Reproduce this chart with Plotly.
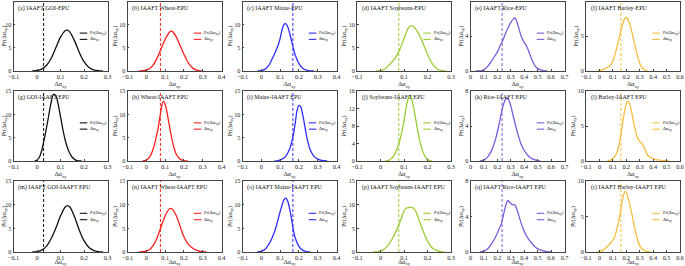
import plotly.graph_objects as go

FONT = "Liberation Serif"

# ---------------- data ----------------
panel_titles = [
    "(a) IAAFT GOI-EPU", "(b) IAAFT Wheat-EPU", "(c) IAAFT Maize-EPU",
    "(d) IAAFT Soybeans-EPU", "(e) IAAFT Rice-EPU", "(f) IAAFT Barley-EPU",
    "(g) GOI-IAAFT EPU", "(h) Wheat-IAAFT EPU", "(i) Maize-IAAFT EPU",
    "(j) Soybeans-IAAFT EPU", "(k) Rice-IAAFT EPU", "(l) Barley-IAAFT EPU",
    "(m) IAAFT GOI-IAAFT EPU", "(n) IAAFT Wheat-IAAFT EPU", "(o) IAAFT Maize-IAAFT EPU",
    "(p) IAAFT Soybeans-IAAFT EPU", "(q) IAAFT Rice-IAAFT EPU", "(r) IAAFT Barley-IAAFT EPU",
]

# observed delta alpha (dashed line) per column: GOI, Wheat, Maize, Soybeans, Rice, Barley
observed_dalpha = [0.028, 0.075, 0.168, 0.078, 0.235, 0.16]

x_ranges = [[-0.1, 0.3], [-0.1, 0.4], [-0.1, 0.4], [-0.1, 0.3], [0, 0.7], [-0.1, 0.6]]
y_tops = [15, 15, 15, 15, 8, 10,
          15, 15, 15, 16, 8, 10,
          15, 15, 15, 15, 8, 10]
y_dticks = [5, 5, 5, 5, 4, 5,
            5, 5, 5, 4, 4, 5,
            5, 5, 5, 5, 4, 5]

a_x = [-0.02, 0, 0.02, 0.04, 0.06, 0.08, 0.10, 0.12, 0.13, 0.14, 0.16, 0.18, 0.20, 0.22, 0.24, 0.26, 0.28]
a_y = [0.03, 0.12, 0.42, 1.2, 2.7, 5.0, 7.3, 8.7, 8.8, 8.4, 6.5, 4.0, 2.0, 0.8, 0.26, 0.07, 0]

b_x = [-0.04, -0.02, 0, 0.02, 0.04, 0.06, 0.08, 0.10, 0.12, 0.13, 0.14, 0.16, 0.18, 0.20, 0.22, 0.24, 0.26, 0.28, 0.30]
b_y = [0, 0.05, 0.2, 0.6, 1.5, 3.0, 4.9, 6.8, 8.2, 8.6, 8.5, 7.3, 5.5, 3.6, 2.0, 0.9, 0.3, 0.06, 0]

c_x = [-0.02, 0, 0.02, 0.04, 0.06, 0.08, 0.09, 0.10, 0.11, 0.12, 0.13, 0.14, 0.15, 0.16, 0.17, 0.18, 0.20, 0.22, 0.24, 0.26, 0.28]
c_y = [0, 0.1, 0.4, 1.2, 2.8, 4.6, 5.6, 7.0, 8.8, 10.0, 10.2, 9.6, 8.3, 6.6, 5.0, 3.5, 1.6, 0.6, 0.2, 0.04, 0]

d_x = [-0.02, 0, 0.02, 0.04, 0.06, 0.08, 0.10, 0.12, 0.13, 0.14, 0.16, 0.18, 0.20, 0.22, 0.24, 0.26, 0.28]
d_y = [0, 0.1, 0.5, 1.5, 2.6, 4.4, 7.0, 9.4, 9.8, 9.6, 8.3, 6.1, 3.6, 1.6, 0.5, 0.1, 0]

e_x = [0.04, 0.08, 0.10, 0.12, 0.15, 0.18, 0.20, 0.22, 0.24, 0.26, 0.28, 0.30, 0.32, 0.33, 0.34, 0.36, 0.38, 0.40, 0.42, 0.44, 0.46, 0.48, 0.50, 0.53, 0.57]
e_y = [0, 0.05, 0.15, 0.4, 1.0, 1.7, 2.2, 2.9, 3.5, 4.3, 5.0, 5.6, 6.0, 6.1, 5.9, 4.9, 3.9, 3.3, 2.8, 2.0, 1.2, 0.6, 0.3, 0.1, 0]

f_x = [-0.02, 0, 0.04, 0.08, 0.10, 0.12, 0.14, 0.16, 0.18, 0.19, 0.20, 0.21, 0.23, 0.25, 0.27, 0.29, 0.31, 0.33, 0.36]
f_y = [0, 0.05, 0.3, 0.8, 1.4, 2.6, 4.2, 5.8, 7.2, 7.6, 7.7, 7.5, 6.5, 4.9, 3.2, 1.7, 0.7, 0.25, 0]

g_x = [-0.01, 0.0, 0.01, 0.02, 0.03, 0.04, 0.05, 0.06, 0.07, 0.08, 0.09, 0.10, 0.11, 0.12, 0.13, 0.14, 0.15, 0.16, 0.17, 0.19]
g_y = [0, 0.2, 0.8, 2.2, 4.5, 7.0, 9.8, 12.5, 14.3, 14.0, 12.2, 9.5, 6.8, 4.5, 2.8, 1.6, 0.8, 0.35, 0.1, 0]

h_x = [-0.02, 0.0, 0.02, 0.04, 0.06, 0.07, 0.08, 0.09, 0.10, 0.11, 0.12, 0.13, 0.14, 0.15, 0.16, 0.18, 0.20, 0.22]
h_y = [0, 0.2, 1.0, 3.0, 6.5, 8.8, 11.3, 12.8, 12.2, 10.5, 8.2, 6.0, 4.0, 2.5, 1.4, 0.4, 0.1, 0]

i_x = [0.07, 0.09, 0.11, 0.13, 0.15, 0.16, 0.17, 0.18, 0.19, 0.20, 0.21, 0.22, 0.23, 0.24, 0.25, 0.26, 0.28, 0.30, 0.32, 0.35]
i_y = [0, 0.1, 0.4, 1.0, 2.5, 3.8, 5.5, 8.0, 10.8, 11.9, 11.6, 10.0, 7.8, 5.5, 3.7, 2.4, 1.0, 0.4, 0.15, 0]

j_x = [0.02, 0.04, 0.06, 0.07, 0.08, 0.09, 0.10, 0.11, 0.12, 0.125, 0.13, 0.14, 0.15, 0.16, 0.17, 0.18, 0.19, 0.20, 0.21, 0.22]
j_y = [0, 0.3, 1.5, 2.8, 4.3, 6.5, 9.2, 12.5, 14.6, 15.0, 14.6, 12.5, 9.5, 6.5, 4.0, 2.2, 1.0, 0.35, 0.1, 0]

k_x = [0.07, 0.10, 0.13, 0.16, 0.19, 0.21, 0.23, 0.25, 0.27, 0.28, 0.30, 0.32, 0.34, 0.36, 0.38, 0.40, 0.43, 0.46, 0.50, 0.52]
k_y = [0, 0.1, 0.5, 1.3, 2.7, 4.0, 5.5, 6.7, 7.2, 7.1, 6.3, 5.0, 3.8, 2.7, 1.8, 1.2, 0.6, 0.25, 0.05, 0]

l_x = [0.06, 0.09, 0.12, 0.14, 0.16, 0.18, 0.20, 0.21, 0.22, 0.24, 0.26, 0.28, 0.30, 0.32, 0.34, 0.36, 0.39, 0.42, 0.46, 0.50, 0.52]
l_y = [0, 0.2, 0.8, 1.8, 3.8, 6.3, 8.2, 8.6, 8.4, 7.0, 5.0, 3.5, 2.8, 2.4, 1.6, 0.8, 0.4, 0.2, 0.1, 0.03, 0]

m_x = [-0.02, 0, 0.02, 0.04, 0.06, 0.08, 0.10, 0.12, 0.13, 0.14, 0.16, 0.18, 0.20, 0.22, 0.24, 0.26, 0.28]
m_y = [0, 0.1, 0.4, 1.2, 2.8, 5.0, 7.6, 9.5, 9.8, 9.5, 7.4, 4.6, 2.4, 1.0, 0.35, 0.08, 0]

n_x = [-0.04, -0.02, 0, 0.02, 0.04, 0.06, 0.08, 0.10, 0.12, 0.13, 0.14, 0.16, 0.18, 0.20, 0.22, 0.24, 0.26, 0.28, 0.30, 0.32]
n_y = [0, 0.05, 0.2, 0.6, 1.6, 3.3, 5.5, 7.6, 9.0, 9.2, 9.0, 7.6, 5.4, 3.2, 1.8, 1.0, 0.5, 0.2, 0.05, 0]

o_x = [-0.02, 0, 0.02, 0.04, 0.06, 0.08, 0.10, 0.12, 0.13, 0.14, 0.15, 0.16, 0.17, 0.18, 0.20, 0.22, 0.24, 0.26]
o_y = [0, 0.15, 0.6, 1.6, 3.2, 5.5, 8.5, 11.0, 11.4, 10.8, 9.3, 7.2, 4.8, 3.0, 1.2, 0.4, 0.1, 0]

p_x = [-0.03, -0.01, 0.01, 0.03, 0.05, 0.07, 0.09, 0.10, 0.11, 0.12, 0.13, 0.14, 0.15, 0.16, 0.18, 0.20, 0.22, 0.24, 0.26, 0.27]
p_y = [0, 0.1, 0.4, 1.3, 2.8, 4.8, 7.3, 8.7, 9.3, 9.4, 9.4, 9.3, 8.6, 7.3, 4.6, 2.3, 0.9, 0.3, 0.05, 0]

q_x = [0.07, 0.10, 0.13, 0.16, 0.19, 0.21, 0.23, 0.25, 0.27, 0.28, 0.29, 0.31, 0.33, 0.35, 0.37, 0.39, 0.41, 0.43, 0.45, 0.48, 0.51, 0.55, 0.60]
q_y = [0, 0.1, 0.4, 1.0, 1.8, 2.5, 3.2, 4.5, 5.6, 5.8, 5.6, 5.35, 5.3, 4.6, 3.6, 2.7, 2.0, 1.5, 1.1, 0.6, 0.3, 0.1, 0]

r_x = [-0.02, 0.0, 0.03, 0.06, 0.09, 0.11, 0.13, 0.15, 0.17, 0.19, 0.20, 0.22, 0.24, 0.26, 0.28, 0.30, 0.32, 0.35, 0.38]
r_y = [0, 0.05, 0.3, 0.8, 1.4, 2.0, 3.2, 5.0, 7.2, 8.5, 8.4, 7.2, 5.5, 3.6, 2.0, 0.9, 0.4, 0.1, 0]

curves = [(a_x, a_y), (b_x, b_y), (c_x, c_y), (d_x, d_y), (e_x, e_y), (f_x, f_y),
          (g_x, g_y), (h_x, h_y), (i_x, i_y), (j_x, j_y), (k_x, k_y), (l_x, l_y),
          (m_x, m_y), (n_x, n_y), (o_x, o_y), (p_x, p_y), (q_x, q_y), (r_x, r_y)]

column_colors = ["#111111", "#FF2020", "#2E2EFF", "#9ACD32", "#7A5CD8", "#F6BD3E"]

# ---------------- layout geometry (pixels) ----------------
W, H = 685, 266
col_left = [13.5, 127.5, 242.5, 357, 470.5, 586]
col_w = 94
row_tb = [(1.5, 71), (91, 161), (181, 252)]

fig = go.Figure()
layout = {}
shapes = []
annotations = []
axis_color = "#444444"
tick_font = dict(family=FONT, size=6.2, color="#222222")

for k in range(18):
    r, c = divmod(k, 6)
    idx = "" if k == 0 else str(k + 1)
    xa, ya = "x" + idx, "y" + idx
    x0 = col_left[c] / W
    x1 = (col_left[c] + col_w) / W
    t, b = row_tb[r]
    y0 = 1 - b / H
    y1 = 1 - t / H
    color = column_colors[c]
    xs, ys = curves[k]
    fig.add_trace(go.Scatter(x=xs, y=ys, mode="lines", xaxis=xa, yaxis=ya,
                             line=dict(color=color, width=1.3, shape="spline", smoothing=0.8),
                             showlegend=False, hoverinfo="skip"))
    d = observed_dalpha[c]
    fig.add_trace(go.Scatter(x=[d, d], y=[0, y_tops[k]], mode="lines", xaxis=xa, yaxis=ya,
                             line=dict(color=color, width=1.0, dash="3px,2px"),
                             showlegend=False, hoverinfo="skip"))
    layout["xaxis" + idx] = dict(
        domain=[x0, x1], anchor=ya, range=x_ranges[c], dtick=0.1, tick0=0,
        automargin=False,
        showgrid=False, zeroline=False, showline=True, mirror=True,
        linecolor=axis_color, linewidth=0.8, ticks="inside", ticklen=2,
        tickcolor=axis_color, tickwidth=0.6, tickfont=tick_font,
        title=dict(text="Δα<sub>xy</sub>", font=dict(family=FONT, size=6.5, color="#222"),
                   standoff=1),
    )
    layout["yaxis" + idx] = dict(
        domain=[y0, y1], anchor=xa, range=[0, y_tops[k]], dtick=y_dticks[k], tick0=0,
        automargin=False,
        showgrid=False, zeroline=False, showline=True, mirror=True,
        linecolor=axis_color, linewidth=0.8, ticks="inside", ticklen=2,
        tickcolor=axis_color, tickwidth=0.6, tickfont=tick_font,
        title=dict(text="Pr(Δα<sub>xy</sub>)", font=dict(family=FONT, size=6.2, color="#222"),
                   standoff=1),
    )
    # panel label
    annotations.append(dict(text=panel_titles[k], xref=xa + " domain", yref=ya + " domain",
                            x=0.03, y=0.985, xanchor="left", yanchor="top", showarrow=False,
                            font=dict(family=FONT, size=6.0, color="#111")))
    # in-panel legend
    for j, (lab, dash, yy) in enumerate([("Pr(Δα<sub>xy</sub>)", "solid", 0.545),
                                         ("Δα<sub>xy</sub>", "dash", 0.455)]):
        shapes.append(dict(type="line", xref=xa + " domain", yref=ya + " domain",
                           x0=0.705, x1=0.785, y0=yy, y1=yy,
                           line=dict(color=color, width=1.1, dash=dash)))
        annotations.append(dict(text=lab, xref=xa + " domain", yref=ya + " domain",
                                x=0.795, y=yy, xanchor="left", yanchor="middle",
                                showarrow=False,
                                font=dict(family=FONT, size=4.8, color="#222")))

fig.update_layout(**layout)
fig.update_layout(
    width=W, height=H, margin=dict(l=0, r=0, t=0, b=0),
    paper_bgcolor="white", plot_bgcolor="white",
    font=dict(family=FONT, size=6, color="#222"),
    showlegend=False, shapes=shapes, annotations=annotations,
)

fig.write_html("out.html", config={"displayModeBar": False},
               post_script="document.body.style.margin='0px';document.body.style.overflow='hidden';")
